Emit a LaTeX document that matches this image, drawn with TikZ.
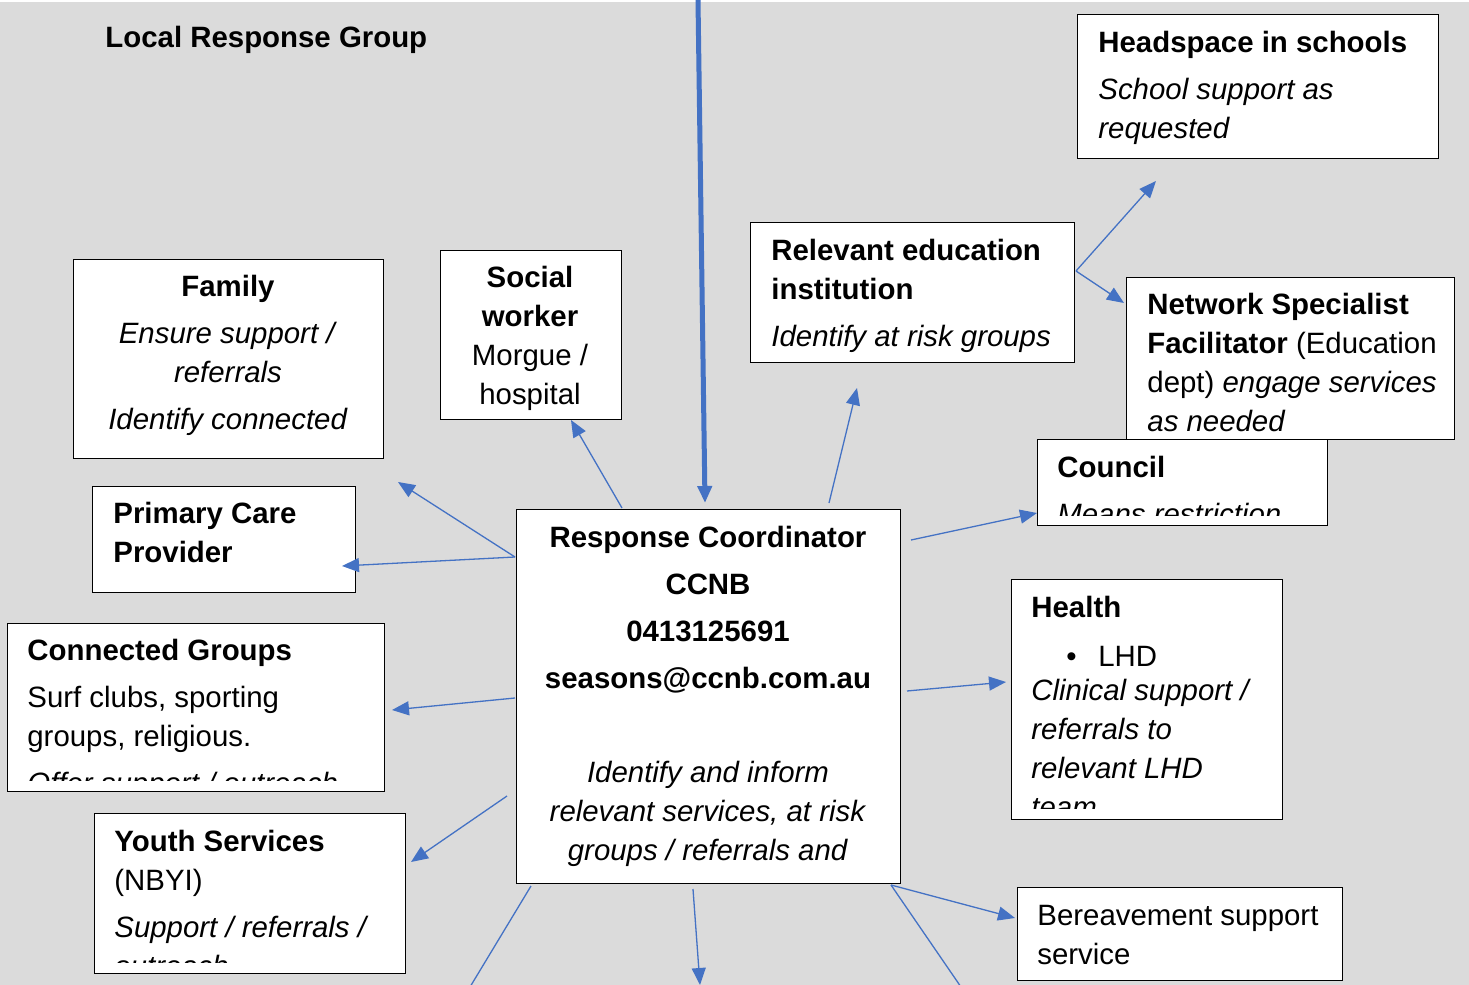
\documentclass[tikz,border=0pt]{standalone}
\usepackage{fontspec}
\setmainfont{Liberation Sans}
\usetikzlibrary{arrows.meta}
\definecolor{bggray}{RGB}{219,219,219}
\definecolor{lrgblue}{RGB}{68,114,196}
\tikzset{
  box/.style={draw=black, fill=white, line width=0.65pt, anchor=north west, inner sep=0pt},
  % multi-line texts sit on the baseline of their last line
  txt/.style={anchor=base west, inner sep=0pt, align=left, font=\fontsize{14.7}{19.5}\selectfont},
  ctxt/.style={anchor=base, inner sep=0pt, align=center, font=\fontsize{14.7}{19.5}\selectfont},
  link/.style={lrgblue, line width=0.65pt, -{Triangle[length=8.5pt,width=7pt]}},
  plainlink/.style={lrgblue, line width=0.65pt},
}
\begin{document}
\begin{tikzpicture}[x=0.5pt, y=-0.5pt]
  \useasboundingbox (0,0) rectangle (1469,985);
  \fill[bggray] (0,2) rectangle (1469,985);

  % title
  \node[txt, font=\fontsize{14.7}{19.5}\selectfont\bfseries] (title) at (105,47) {Local Response Group};

  % boxes
  \node[box, minimum width=180.5pt, minimum height=72pt] (hs) at (1077,14) {};
  \node[box, minimum width=162pt, minimum height=70pt] (edu) at (750,222) {};
  \node[box, minimum width=164pt, minimum height=81pt] (nsf) at (1126,277) {};
  \node[box, minimum width=145pt, minimum height=43pt] (council) at (1037,439) {};
  \node[box, minimum width=135.5pt, minimum height=120pt] (health) at (1011,579) {};
  \node[box, minimum width=162.5pt, minimum height=46.5pt] (bereave) at (1017,887) {};
  \node[box, minimum width=192pt, minimum height=187pt] (rc) at (516,509) {};
  \node[box, minimum width=155pt, minimum height=99.5pt] (family) at (73,259) {};
  \node[box, minimum width=90.5pt, minimum height=84.5pt] (social) at (440,250) {};
  \node[box, minimum width=131.5pt, minimum height=53pt] (pcp) at (92,486) {};
  \node[box, minimum width=188.5pt, minimum height=84pt] (groups) at (7,623) {};
  \node[box, minimum width=155.5pt, minimum height=80pt] (youth) at (94,813) {};

  % texts
  \node[txt] (hs-t) at (1098,138) {\textbf{Headspace in schools}\\[4pt]\textit{School support as}\\\textit{requested}};
  \node[txt] (edu-t) at (771,346) {\textbf{Relevant education}\\\textbf{institution}\\[4pt]\textit{Identify at risk groups}};
  \begin{scope}
    \clip (1126,277) rectangle (1454,437);
    \node[txt] (nsf-t) at (1147,431) {\textbf{Network Specialist}\\\textbf{Facilitator} (Education\\dept) \textit{engage services}\\\textit{as needed}};
  \end{scope}
  \begin{scope}
    \clip (1037,439) rectangle (1327,515);
    \node[txt] (council-t) at (1057,524) {\textbf{Council}\\[4pt]\textit{Means restriction}};
  \end{scope}
  \begin{scope}
    \clip (1011,579) rectangle (1282,808);
    \node[txt] (health-t) at (1031,817) {\textbf{Health}\\[5pt]\hspace*{17.5pt}\makebox[16pt][l]{•}LHD\\[-2.5pt]\textit{Clinical support /}\\\textit{referrals to}\\\textit{relevant LHD}\\\textit{team}};
  \end{scope}
  \node[txt] (bereave-t) at (1037,964) {Bereavement support\\service};
  \node[ctxt] (rc-t) at (708,860) {\textbf{Response Coordinator}\\[4pt]\textbf{CCNB}\\[4pt]\textbf{0413125691}\\[4pt]\textbf{seasons@ccnb.com.au}\\[27.5pt]\textit{Identify and inform}\\\textit{relevant services, at risk}\\\textit{groups / referrals and}};
  \node[ctxt] (family-t) at (228,429) {\textbf{Family}\\[4pt]\textit{Ensure support /}\\\textit{referrals}\\[4pt]\textit{Identify connected}};
  \node[ctxt] (social-t) at (530,404) {\textbf{Social}\\\textbf{worker}\\Morgue /\\hospital};
  \node[txt] (pcp-t) at (113,562) {\textbf{Primary Care}\\\textbf{Provider}};
  \begin{scope}
    \clip (7,623) rectangle (384,780);
    \node[txt] (groups-t) at (27,793) {\textbf{Connected Groups}\\[4pt]Surf clubs, sporting\\groups, religious.\\[4pt]\textit{Offer support / outreach}};
  \end{scope}
  \begin{scope}
    \clip (94,813) rectangle (405,962);
    \node[txt] (youth-t) at (114,976) {\textbf{Youth Services}\\(NBYI)\\[4pt]\textit{Support / referrals /}\\\textit{outreach}};
  \end{scope}

  % connector ends
  \coordinate (top-in) at (698,0);
  \coordinate (rc-in) at (705,503);
  \coordinate (rc-fam) at (515,557);
  \coordinate (fam-tip) at (398,482);
  \coordinate (rc-pcp) at (515,557);
  \coordinate (pcp-tip) at (342,566);
  \coordinate (rc-grp) at (515,698);
  \coordinate (grp-tip) at (392,710);
  \coordinate (rc-yth) at (507,796);
  \coordinate (yth-tip) at (411,862);
  \coordinate (rc-sw) at (531,886);
  \coordinate (sw-end) at (470,987);
  \coordinate (rc-s) at (693,889);
  \coordinate (s-tip) at (700,985);
  \coordinate (rc-se) at (891,885);
  \coordinate (se-end) at (961,987);
  \coordinate (ber-tip) at (1015,918);
  \coordinate (rc-hl) at (907,691);
  \coordinate (hl-tip) at (1006,682);
  \coordinate (rc-cn) at (911,540);
  \coordinate (cn-tip) at (1037,513);
  \coordinate (rc-ed) at (829,503);
  \coordinate (ed-tip) at (857,388);
  \coordinate (rc-so) at (622,508);
  \coordinate (so-tip) at (571,420);
  \coordinate (ed-out) at (1076,271);
  \coordinate (hs-tip) at (1156,181);
  \coordinate (nsf-tip) at (1124,303);

  % connectors
  \draw[link, line width=2.5pt] (top-in) -- (rc-in);
  \draw[link] (rc-fam) -- (fam-tip);
  \draw[link] (rc-pcp) -- (pcp-tip);
  \draw[link] (rc-grp) -- (grp-tip);
  \draw[link] (rc-yth) -- (yth-tip);
  \draw[plainlink] (rc-sw) -- (sw-end);
  \draw[link] (rc-s) -- (s-tip);
  \draw[plainlink] (rc-se) -- (se-end);
  \draw[link] (rc-se) -- (ber-tip);
  \draw[link] (rc-hl) -- (hl-tip);
  \draw[link] (rc-cn) -- (cn-tip);
  \draw[link] (rc-ed) -- (ed-tip);
  \draw[link] (rc-so) -- (so-tip);
  \draw[link] (ed-out) -- (hs-tip);
  \draw[link] (ed-out) -- (nsf-tip);
\end{tikzpicture}
\end{document}
